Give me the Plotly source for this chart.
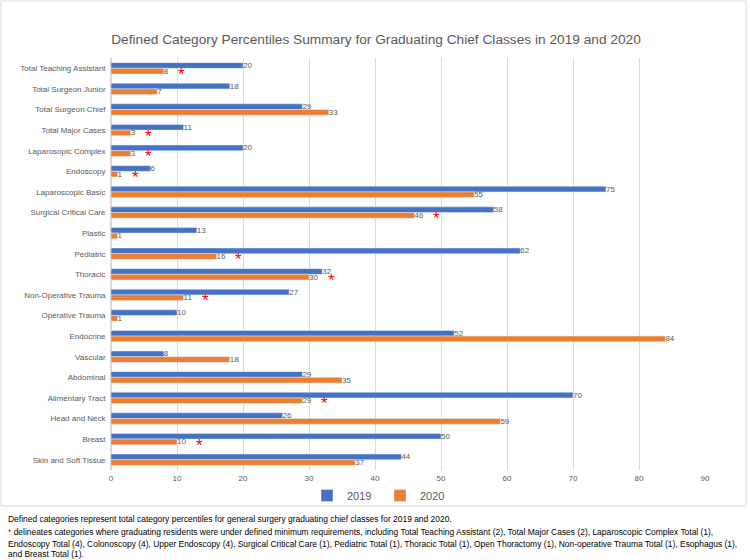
import plotly.graph_objects as go

categories = ["Total Teaching Assistant", "Total Surgeon Junior", "Total Surgeon Chief",
              "Total Major Cases", "Laparosopic Complex", "Endoscopy", "Laparoscopic Basic",
              "Surgical Critical Care", "Plastic", "Pediatric", "Thoracic",
              "Non-Operative Trauma", "Operative Trauma", "Endocrine", "Vascular",
              "Abdominal", "Alimentary Tract", "Head and Neck", "Breast", "Skin and Soft Tissue"]
values_2019 = [20, 18, 29, 11, 20, 6, 75, 58, 13, 62, 32, 27, 10, 52, 8, 29, 70, 26, 50, 44]
values_2020 = [8, 7, 33, 3, 3, 1, 55, 46, 1, 16, 30, 11, 1, 84, 18, 35, 29, 59, 10, 37]
below_minimum = [True, False, False, True, True, True, False, True, False, True, True,
                 True, False, False, False, False, True, False, True, False]
x_ticks = [0, 10, 20, 30, 40, 50, 60, 70, 80, 90]

W, H = 750, 560
L, R, T, B = 111, 705, 58, 470
pw, ph = R - L, B - T

def px(X):
    return (X - L) / pw

def py(Y):
    return (B - Y) / ph

FONT = "Liberation Sans"
GRAY = "#595959"

fig = go.Figure()
fig.add_trace(go.Bar(
    y=categories, x=values_2019, name="2019", orientation="h",
    marker=dict(color="#4472C4"), text=[str(v) for v in values_2019],
    textposition="outside", cliponaxis=False, constraintext="none",
    textfont=dict(family=FONT, size=8, color=GRAY),
))
fig.add_trace(go.Bar(
    y=categories, x=values_2020, name="2020", orientation="h",
    marker=dict(color="#ED7D31"), text=[str(v) for v in values_2020],
    textposition="outside", cliponaxis=False, constraintext="none",
    textfont=dict(family=FONT, size=8, color=GRAY),
))

annotations = []
# red asterisks next to the 2020 labels of categories below minimum
for cat, v, s in zip(categories, values_2020, below_minimum):
    if s:
        annotations.append(dict(
            text="*", x=v, y=cat, xref="x", yref="y", showarrow=False,
            xanchor="center", yanchor="middle",
            xshift=13 + 4.5 * len(str(v)), yshift=-6,
            font=dict(family=FONT, size=17, color="#FF0000"),
        ))

footer = [
    "Defined categories represent total category percentiles for general surgery graduating chief classes for 2019 and 2020.",
    "<span style='color:#FF0000'>*</span> delineates categories where graduating residents were under defined minimum requirements, including Total Teaching Assistant (2), Total Major Cases (2), Laparoscopic Complex Total (1),",
    "Endoscopy Total (4), Colonoscopy (4), Upper Endoscopy (4), Surgical Critical Care (1), Pediatric Total (1), Thoracic Total (1), Open Thoractomy (1), Non-operative Trauma Total (1), Esophagus (1),",
    "and Breast Total (1).",
]
footer_y = [519, 532, 544, 554]

for line, yy in zip(footer, footer_y):
    annotations.append(dict(
        text=line, xref="paper", yref="paper", x=px(6), y=py(yy),
        xanchor="left", yanchor="middle", showarrow=False,
        font=dict(family=FONT, size=8.45, color="#000000"),
    ))

fig.update_layout(
    width=W, height=H,
    margin=dict(l=L, r=W - R, t=T, b=H - B, pad=0, autoexpand=False),
    paper_bgcolor="white", plot_bgcolor="white",
    barmode="group", bargap=0.45, bargroupgap=0,
    title=dict(text="Defined Category Percentiles Summary for Graduating Chief Classes in 2019 and 2020",
               xref="container", yref="container",
               x=376 / W, xanchor="center", y=1 - 39 / H, yanchor="middle",
               font=dict(family=FONT, size=13.7, color=GRAY)),
    xaxis=dict(range=[0, 90], autorange=False, tickvals=x_ticks, showgrid=True,
               gridcolor="#D9D9D9", gridwidth=1, zeroline=True, zerolinecolor="#D9D9D9",
               showline=False, tickfont=dict(family=FONT, size=8, color=GRAY), ticks="",
               ticklabelstandoff=2, automargin=False),
    yaxis=dict(range=[len(categories) - 0.5, -0.5], autorange=False,
               categoryorder="array", categoryarray=categories,
               showgrid=False, zeroline=False, showline=False, ticks="",
               tickfont=dict(family=FONT, size=8, color=GRAY), ticksuffix="  ",
               automargin=False),
    legend=dict(orientation="h", x=px(380), xanchor="center", y=py(481), yanchor="top",
                font=dict(family=FONT, size=11, color=GRAY), itemwidth=30,
                entrywidth=28, bgcolor="rgba(0,0,0,0)",
                traceorder="normal"),
    showlegend=True,
    annotations=annotations,
    shapes=[dict(type="rect", xref="paper", yref="paper", x0=px(1), x1=px(746),
                 y0=py(506), y1=py(1), line=dict(color="#D9D9D9", width=1),
                 fillcolor="rgba(0,0,0,0)", layer="below")],
    font=dict(family=FONT),
)

fig.write_html("out.html", config={"displayModeBar": False},
               post_script="document.body.style.margin='0px';")
